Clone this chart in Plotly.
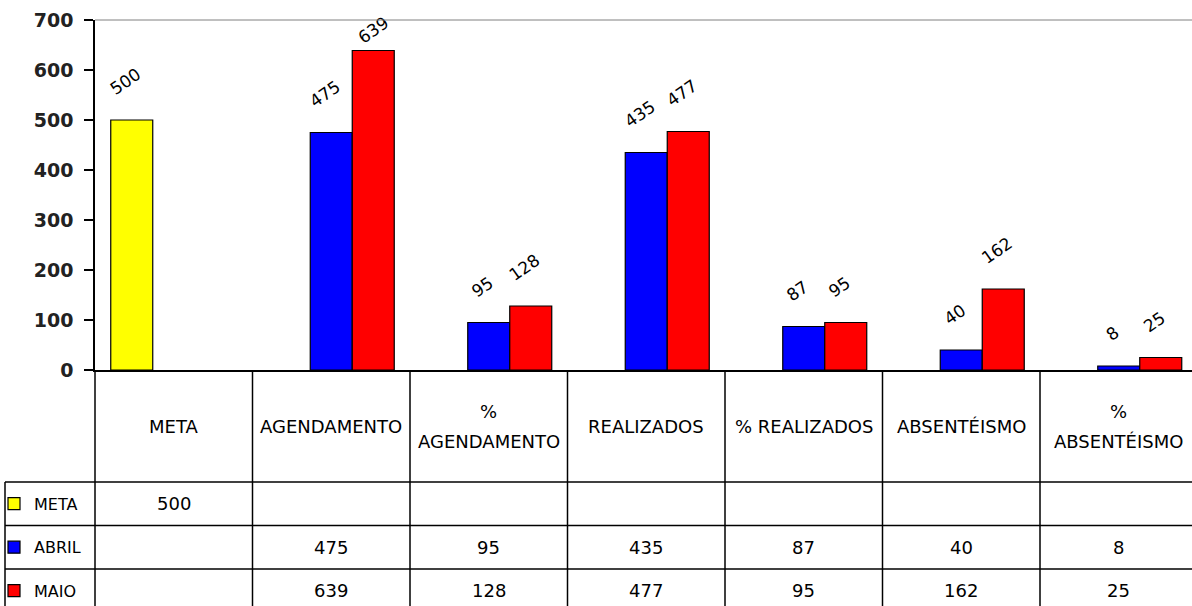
"""
Grafico de barras estilo Excel com tabela de dados abaixo.
"""
import plotly.graph_objects as go

# ---------------------------------------------------------------------------
# Dados
# ---------------------------------------------------------------------------

categorias = [
    ["META"],
    ["AGENDAMENTO"],
    ["%", "AGENDAMENTO"],
    ["REALIZADOS"],
    ["% REALIZADOS"],
    ["ABSENTÉISMO"],
    ["%", "ABSENTÉISMO"],
]
meta = [500, None, None, None, None, None, None]
abril = [None, 475, 95, 435, 87, 40, 8]
maio = [None, 639, 128, 477, 95, 162, 25]
series = [
    ("META", meta, "#FFFF00"),
    ("ABRIL", abril, "#0000FF"),
    ("MAIO", maio, "#FF0000"),
]
y_ticks = [0, 100, 200, 300, 400, 500, 600, 700]

# ---------------------------------------------------------------------------
# Geometria (px) da figura e da tabela
# ---------------------------------------------------------------------------

W, H = 1192, 606
M_L, M_T, Y_BASE = 95, 20, 370
COL_W = 157.5
CAB_H = 112
LINHA_H = 43.5
LEG_X = 5
FONTE = "DejaVu Sans"
Y_MAX = 700


def py(Y):
    """pixel vertical -> coordenada paper (0 na base do grafico)."""
    return (Y_BASE - Y) / (Y_BASE - M_T)


def px(X):
    return (X - M_L) / (W - M_L)


def rotulo(v):
    # rotulo afastado da barra, exceto perto do topo (como o Excel faz)
    if v is None:
        return ""
    return "%{y}" if v > 0.85 * Y_MAX else "%{y}<br>\u00a0"


x = list(range(len(categorias)))

fig = go.Figure()
legendas = ["legend", "legend2", "legend3"]
for k, (nome, valores, cor) in enumerate(series):
    fig.add_trace(go.Bar(
        x=x,
        y=valores,
        name=nome,
        legend=legendas[k],
        marker=dict(color=cor, line=dict(color="black", width=1.2)),
        texttemplate=[rotulo(v) for v in valores],
        textposition="outside",
        textangle=-35,
        textfont=dict(family=FONTE, size=17, color="black"),
        constraintext="none",
        cliponaxis=False,
    ))

shapes = []
annotations = []

# borda superior cinza da area do grafico
shapes.append(dict(type="line", xref="paper", yref="paper", x0=0, x1=1, y0=1, y1=1,
                   line=dict(color="#808080", width=1)))

# tabela: linhas verticais
y_fim = py(H + 5)
shapes.append(dict(type="line", xref="paper", yref="paper", x0=0, x1=0, y0=0, y1=y_fim,
                   line=dict(color="black", width=1.5)))
for i in x:
    shapes.append(dict(type="line", xref="x", yref="paper", x0=i + 0.5, x1=i + 0.5,
                       y0=0, y1=y_fim, line=dict(color="black", width=1.5)))
y_cab = Y_BASE + CAB_H
shapes.append(dict(type="line", xref="paper", yref="paper", x0=px(LEG_X), x1=px(LEG_X),
                   y0=py(y_cab), y1=y_fim, line=dict(color="black", width=1.5)))
# tabela: linhas horizontais
for r in range(len(series)):
    yy = py(y_cab + r * LINHA_H)
    shapes.append(dict(type="line", xref="paper", yref="paper", x0=px(LEG_X), x1=1,
                       y0=yy, y1=yy, line=dict(color="black", width=1.5)))

# cabecalho (nomes das categorias)
for i, linhas in enumerate(categorias):
    n = len(linhas)
    for j, txt in enumerate(linhas):
        annotations.append(dict(
            x=i, xref="x", y=py(Y_BASE + CAB_H / 2), yref="paper",
            xanchor="center", yanchor="middle",
            text=txt, showarrow=False, yshift=((n - 1) / 2 - j) * 30,
            font=dict(family=FONTE, size=18, color="black"),
        ))

# valores da tabela
for r, (nome, valores, cor) in enumerate(series):
    yc = py(y_cab + (r + 0.5) * LINHA_H)
    for i, v in zip(x, valores):
        if v is None:
            continue
        annotations.append(dict(
            x=i, xref="x", y=yc, yref="paper", text=str(v), showarrow=False,
            xanchor="center", yanchor="middle",
            font=dict(family=FONTE, size=18, color="black"),
        ))

# uma legenda por linha da tabela
leg_cfg = dict(
    xanchor="left", yanchor="middle", x=px(-6),
    bgcolor="rgba(0,0,0,0)", borderwidth=0,
    font=dict(family=FONTE, size=16, color="black"),
    itemwidth=30,
)
leg_layout = {}
for r, lg in enumerate(legendas):
    leg_layout[lg] = dict(leg_cfg, y=py(y_cab + (r + 0.5) * LINHA_H))

fig.update_layout(
    width=W, height=H,
    margin=dict(l=M_L, r=0, t=M_T, b=H - Y_BASE, autoexpand=False),
    paper_bgcolor="white",
    plot_bgcolor="white",
    barmode="group",
    bargap=0.2,
    bargroupgap=0,
    showlegend=True,
    shapes=shapes,
    annotations=annotations,
    xaxis=dict(
        range=[-0.5, -0.5 + (W - M_L) / COL_W],
        showticklabels=False, ticks="", showgrid=False, zeroline=False,
        showline=True, linecolor="black", linewidth=1.5, fixedrange=True,
    ),
    yaxis=dict(
        range=[0, Y_MAX], tickvals=y_ticks, showgrid=False, zeroline=False,
        showline=True, linecolor="black", linewidth=1.5,
        ticks="outside", ticklen=9, tickcolor="black", tickwidth=1.5,
        ticklabelstandoff=7,
        tickfont=dict(family=FONTE, size=19, color="#222222", weight="bold"),
        fixedrange=True,
    ),
    **leg_layout,
)

fig.write_html(
    "out.html",
    config={"displayModeBar": False},
    post_script="document.body.style.margin='0';",
)
